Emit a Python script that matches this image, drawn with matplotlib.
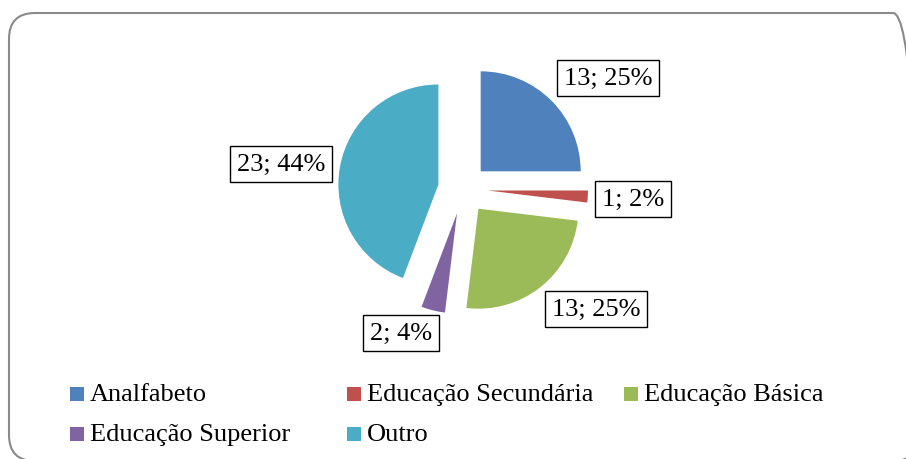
import matplotlib
matplotlib.use("Agg")
import matplotlib.pyplot as plt
from matplotlib.patches import FancyBboxPatch, Rectangle

# ---- data ----
categories = ["Analfabeto", "Educação Secundária", "Educação Básica",
              "Educação Superior", "Outro"]
values = [13, 1, 13, 2, 23]
percents = ["25%", "2%", "25%", "4%", "44%"]
colors = ["#4F81BD", "#C0504D", "#9BBB59", "#8064A2", "#4BACC6"]

# ---- layout (pixel coordinates, y measured from top) ----
W, H = 906, 460
pie_center = (463, 190)
pie_radius = 100
explode_px = 25
label_pos = [(608, 79), (633, 200), (596, 310), (401, 334), (281, 165)]
legend_rows = [["Analfabeto", "Educação Secundária", "Educação Básica"],
               ["Educação Superior", "Outro"]]
legend_x0, legend_dx = 70, 277
legend_y0, legend_dy = 395, 40
FONT = "Liberation Serif"
FS = 19

fig = plt.figure(figsize=(W / 100, H / 100), dpi=100)
ax = fig.add_axes([0, 0, 1, 1])

def py(y):
    return H - y

wedges, _ = ax.pie(values, colors=colors, startangle=90, counterclock=False,
                   center=(pie_center[0], py(pie_center[1])), radius=pie_radius,
                   explode=[explode_px] * len(values),
                   wedgeprops=dict(linewidth=0), frame=True)
ax.set_aspect("auto")
ax.set_xlim(0, W)
ax.set_ylim(0, H)
ax.axis("off")

# outer rounded border (right and bottom sides run past the image edge)
border = FancyBboxPatch((9, py(462)), 910, 448,
                        boxstyle="round,pad=0,rounding_size=26",
                        fc="none", ec="#8a8a8a", lw=1.5, clip_on=True, zorder=0)
ax.add_patch(border)

for v, p, (lx, ly) in zip(values, percents, label_pos):
    ax.text(lx, py(ly), f"{v}; {p}", ha="center", va="center",
            fontsize=FS, family=FONT, color="black",
            bbox=dict(boxstyle="square,pad=0.25", fc="white", ec="black", lw=1))

# legend
cmap = dict(zip(categories, colors))
for r, row in enumerate(legend_rows):
    for c, name in enumerate(row):
        x = legend_x0 + c * legend_dx
        y = legend_y0 + r * legend_dy
        ax.add_patch(Rectangle((x, py(y) - 7), 14, 14, fc=cmap[name], ec="none"))
        ax.text(x + 20, py(y), name, ha="left", va="center",
                fontsize=FS, family=FONT, color="black")

fig.savefig("out.png", dpi=100)
